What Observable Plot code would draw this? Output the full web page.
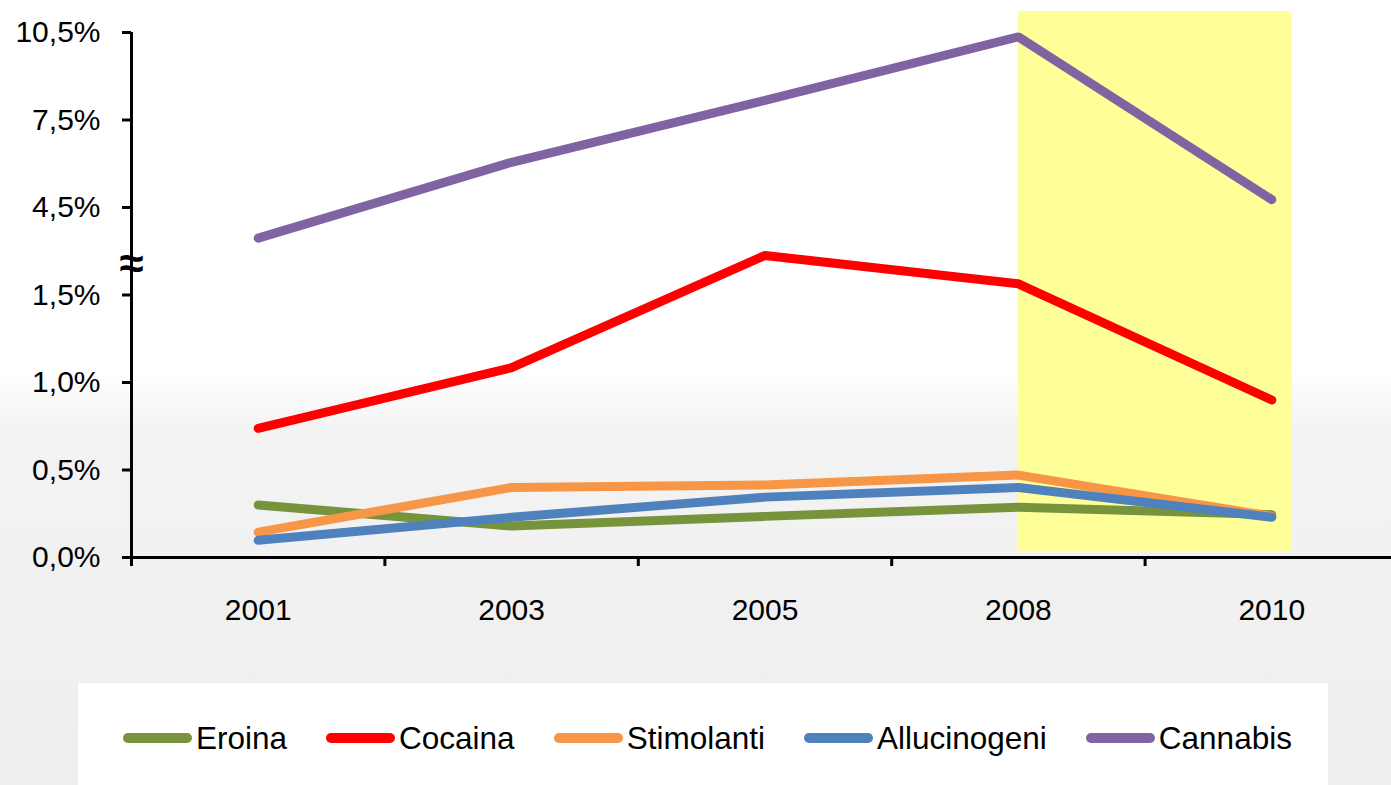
<!DOCTYPE html>
<html>
<head>
<meta charset="utf-8">
<script src="https://cdn.jsdelivr.net/npm/d3@7"></script>
<script src="https://cdn.jsdelivr.net/npm/@observablehq/plot@0.6"></script>
<style>
  html, body { margin: 0; padding: 0; }
  body {
    width: 1391px; height: 785px; overflow: hidden; position: relative;
    font-family: "Liberation Sans", Arial, sans-serif;
    background: linear-gradient(to bottom, #ffffff 0px, #ffffff 370px, #f3f3f3 430px, #eeeeee 785px);
  }
  #chart { position: absolute; left: 0; top: 0; width: 1400px; }
  #chart svg { max-width: none !important; }
  #legend {
    position: absolute; left: 78px; top: 683px; width: 1250px; height: 110px;
    background: #ffffff; display: flex; align-items: center; padding-left: 45px; box-sizing: border-box;
    gap: 39px; font-size: 31.5px; color: #000;
  }
  .item { display: flex; align-items: center; gap: 4px; }
  .sw { width: 69px; height: 10px; border-radius: 5px; }
</style>
</head>
<body>
<div id="chart"></div>
<div id="legend"></div>
<script>
// ---- data ----
const years = ["2001", "2003", "2005", "2008", "2010"];
const seriesNames = ["Eroina", "Cocaina", "Stimolanti", "Allucinogeni", "Cannabis"];
const seriesColors = ["#77933C", "#FF0000", "#F79646", "#4F81BD", "#8064A2"];
const eroina = [0.30, 0.18, 0.235, 0.287, 0.245];
const cocaina = [0.738, 1.085, 1.726, 1.564, 0.90];
const stimolanti = [0.145, 0.40, 0.414, 0.471, 0.235];
const allucinogeni = [0.098, 0.23, 0.345, 0.40, 0.23];
const cannabis = [3.45, 6.05, 8.17, 10.35, 4.77];
// which series is read on the upper (broken) part of the axis
const upperSeries = ["Cannabis"];
// axis ticks (percent values) and labels
const yTickValues = [0, 0.5, 1.0, 1.5, 4.5, 7.5, 10.5];
const yTickLabels = ["0,0%", "0,5%", "1,0%", "1,5%", "4,5%", "7,5%", "10,5%"];
const highlightFrom = "2008";
const highlightTo = "2010";

// ---- broken-axis mapping: lower part linear, upper part 3% per 0.5 unit ----
const lowerTop = 1.5, upperBase = 4.5, upperStart = 2.0, upperScale = 6;
const disp = (v, upper) => upper ? upperStart + (v - upperBase) / upperScale : v;
const tickDisp = yTickValues.map(v => disp(v, v > lowerTop));
const breakDisp = (lowerTop + upperStart) / 2 - 0.07;
const labelOf = new Map(tickDisp.map((d, i) => [d, yTickLabels[i]]));

const valuesBySeries = [eroina, cocaina, stimolanti, allucinogeni, cannabis];
const rows = [];
seriesNames.forEach((name, s) => {
  valuesBySeries[s].forEach((v, i) => {
    rows.push({series: name, xi: i, value: v, y: disp(v, upperSeries.includes(name))});
  });
});

const hx1 = years.indexOf(highlightFrom);
const hx2 = years.indexOf(highlightTo) + 0.08;

const chart = Plot.plot({
  width: 1400,
  height: 640,
  marginLeft: 131,
  marginRight: 2,
  marginTop: 32,
  marginBottom: 83,
  style: {fontFamily: "'Liberation Sans', Arial, sans-serif", background: "transparent", color: "#000", overflow: "visible"},
  x: {domain: [-0.5, 4.5], label: null},
  y: {domain: [0, 3], label: null},
  marks: [
    Plot.rect([{x1: hx1, x2: hx2}], {x1: "x1", x2: "x2", y1: 0.035, y2: 3.12, fill: "#FFFF99"}),
    ...seriesNames.map((name, s) =>
      Plot.line(rows.filter(r => r.series === name), {
        x: "xi", y: "y", stroke: seriesColors[s], strokeWidth: 9,
        strokeLinecap: "round", strokeLinejoin: "miter"
      })
    ),
    Plot.ruleX([-0.5], {y1: 0, y2: 3, stroke: "#000", strokeWidth: 3}),
    Plot.ruleY([0], {x1: -0.5, x2: 4.5, stroke: "#000", strokeWidth: 3}),
    Plot.axisY({ticks: tickDisp, tickSize: 9, tickPadding: 22, strokeWidth: 3, fontSize: 30, label: null,
      tickFormat: d => labelOf.get(d)}),
    Plot.axisX({ticks: [-0.5, 0.5, 1.5, 2.5, 3.5, 4.5], tickSize: 9, strokeWidth: 3, label: null, tickFormat: () => ""}),
    Plot.axisX({ticks: [0, 1, 2, 3, 4], tickSize: 0, tickPadding: 41, fontSize: 30, label: null,
      tickFormat: i => years[i]}),
    Plot.text([breakDisp], {x: -0.5, y: d => d, text: () => "≈", fontSize: 44, fontWeight: "bold", fill: "#000"})
  ]
});
chart.style.maxWidth = "none";
document.getElementById("chart").appendChild(chart);

const legend = document.getElementById("legend");
seriesNames.forEach((name, s) => {
  const item = document.createElement("div");
  item.className = "item";
  const sw = document.createElement("div");
  sw.className = "sw";
  sw.style.background = seriesColors[s];
  const lab = document.createElement("span");
  lab.textContent = name;
  item.appendChild(sw);
  item.appendChild(lab);
  legend.appendChild(item);
});
</script>
</body>
</html>
